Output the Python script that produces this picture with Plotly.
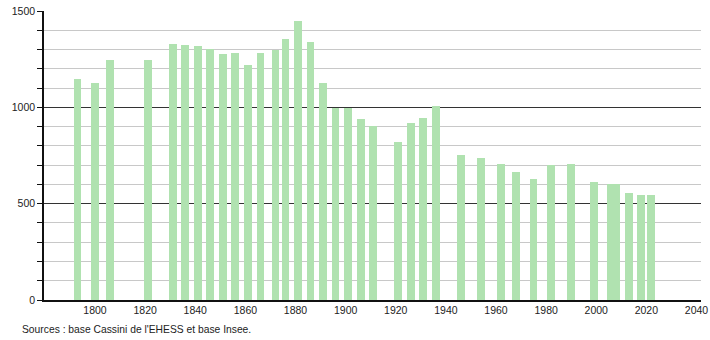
import plotly.graph_objects as go

years = [1793, 1800, 1806, 1821, 1831, 1836, 1841, 1846, 1851, 1856,
         1861, 1866, 1872, 1876, 1881, 1886, 1891, 1896, 1901, 1906,
         1911, 1921, 1926, 1931, 1936, 1946, 1954, 1962, 1968, 1975,
         1982, 1990, 1999, 2006, 2008, 2013, 2018, 2022]
population = [1147, 1126, 1247, 1245, 1330, 1323, 1318, 1301, 1277, 1283,
              1220, 1282, 1297, 1353, 1446, 1339, 1124, 998, 995, 939,
              903, 820, 918, 946, 1007, 752, 737, 707, 664, 626,
              699, 706, 611, 603, 600, 557, 545, 545]
x_ticks = list(range(1800, 2041, 20))
y_major = [0, 500, 1000, 1500]
source_text = "Sources : base Cassini de l'EHESS et base Insee."

W, H = 710, 340
L, R, T, B = 44, 9, 11, 40
pw, ph = W - L - R, H - T - B

fig = go.Figure()
fig.add_trace(go.Bar(
    x=years, y=population, width=3.1,
    marker=dict(color="rgb(176,226,176)", line=dict(width=0)),
    hoverinfo="x+y",
))

fig.update_layout(
    width=W, height=H,
    margin=dict(l=L, r=R, t=T, b=B, pad=0, autoexpand=False),
    paper_bgcolor="white", plot_bgcolor="white",
    font=dict(family="Liberation Sans, Arial, sans-serif", size=11, color="#222"),
    showlegend=False,
    bargap=0,
)
fig.update_xaxes(
    range=[1779.65, 2041.8], automargin=False,
    tickvals=x_ticks, ticks="", showgrid=False, zeroline=False,
    showline=True, linecolor="#111", linewidth=1.5,
    tickfont=dict(size=10.5, color="#222"),
)
fig.update_yaxes(
    range=[0, 1500], automargin=False,
    tickvals=y_major, ticks="outside", ticklen=5, tickcolor="#111", tickwidth=1,
    showgrid=True, gridcolor="#333", gridwidth=1,
    zeroline=False, showline=True, linecolor="#111", linewidth=1.5,
    tickfont=dict(size=10.5, color="#222"),
    minor=dict(dtick=100, showgrid=True, gridcolor="#c8c8c8", gridwidth=1,
               ticks="outside", ticklen=5, tickcolor="#111"),
)
fig.add_annotation(
    text=source_text, xref="paper", yref="paper",
    x=(20 - L) / pw, y=(T + ph - 329.5) / ph,
    xanchor="left", yanchor="middle", showarrow=False,
    font=dict(size=10.3, color="#222"),
)
fig.write_html("out.html")
